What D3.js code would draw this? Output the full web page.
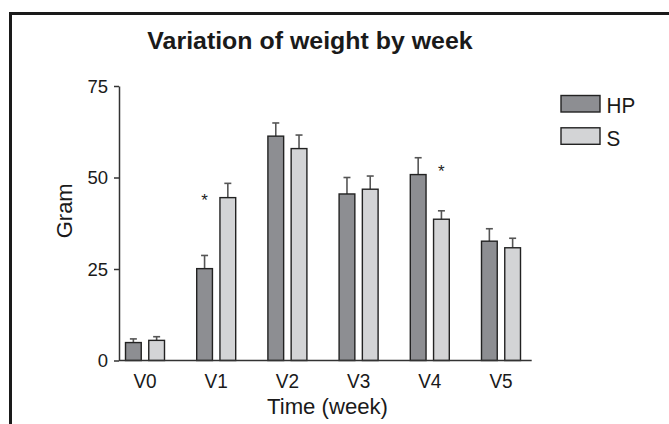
<!DOCTYPE html>
<html><head><meta charset="utf-8">
<script src="https://cdn.jsdelivr.net/npm/d3@7"></script>
<style>html,body{margin:0;padding:0;background:#fff;}svg{display:block;font-family:"Liberation Sans",Arial,sans-serif;}</style>
</head><body>
<svg id="chart" width="669" height="424"></svg>
<script>
const categories = ["V0","V1","V2","V3","V4","V5"];
const seriesNames = ["HP","S"];
const hpValues = [4.9, 25.1, 61.3, 45.5, 50.8, 32.6];
const hpErrors = [1.0, 3.6, 3.6, 4.5, 4.6, 3.4];
const sValues  = [5.5, 44.5, 57.9, 46.8, 38.6, 30.8];
const sErrors  = [1.0, 3.9, 3.7, 3.6, 2.3, 2.6];
const yTicks = [0, 25, 50, 75];
const starCats = ["V1","V4"];
const starSeries = ["HP","S"];
const starValues = [44.8, 52.5];
const colors = {HP:"#8d8e92", S:"#d3d4d6"};

const svg = d3.select("#chart");
svg.append("rect").attr("width",669).attr("height",424).attr("fill","#fff");
// frame
svg.append("rect").attr("x",10.5).attr("y",13.5).attr("width",700).attr("height",450)
  .attr("fill","none").attr("stroke","#1a1a1a").attr("stroke-width",3);

const y = d3.scaleLinear().domain([0,75]).range([360.5, 86]);
const x = d3.scaleBand().domain(categories).range([109.4, 536.6]).padding(0);
const xs = d3.scaleBand().domain(seriesNames).range([15.6, 55.6]).paddingInner(0.28).paddingOuter(0);

const data = categories.map((c,i)=>({cat:c, vals:[
  {s:"HP", v:hpValues[i], e:hpErrors[i]},
  {s:"S", v:sValues[i], e:sErrors[i]}]}));

function stretch(sel, sx){
  sel.each(function(){
    const w = this.getComputedTextLength();
    d3.select(this).attr("textLength", w*sx).attr("lengthAdjust","spacingAndGlyphs");
  });
}

// title
svg.append("text").attr("x",310).attr("y",48.5).attr("text-anchor","middle")
  .attr("font-size",23.5).attr("font-weight","bold").attr("fill","#1a1a1a").text("Variation of weight by week")
  .call(stretch, 1.06);

// error bars
const g = svg.append("g");
data.forEach(d=>{
  d.vals.forEach(b=>{
    const cx = x(d.cat)+xs(b.s)+xs.bandwidth()/2;
    g.append("line").attr("x1",cx).attr("x2",cx).attr("y1",y(b.v)).attr("y2",y(b.v+b.e))
      .attr("stroke","#555").attr("stroke-width",1.6);
    g.append("line").attr("x1",cx-3.5).attr("x2",cx+3.5).attr("y1",y(b.v+b.e)).attr("y2",y(b.v+b.e))
      .attr("stroke","#555").attr("stroke-width",1.6);
  });
});
// bars
data.forEach(d=>{
  g.selectAll(null).data(d.vals).enter().append("rect")
    .attr("x",b=>x(d.cat)+xs(b.s)+0.5)
    .attr("y",b=>y(b.v))
    .attr("width",xs.bandwidth()-1)
    .attr("height",b=>y(0)-y(b.v))
    .attr("fill",b=>colors[b.s]).attr("stroke","#222").attr("stroke-width",1.4);
});

// stars
starCats.forEach((c,i)=>{
  const cx = x(c)+xs(starSeries[i])+xs.bandwidth()/2;
  svg.append("text").attr("x",cx).attr("y",y(starValues[i])+9).attr("text-anchor","middle")
    .attr("font-size",17).attr("fill","#222").text("*");
});

// y axis
const yAxis = d3.axisLeft(y).tickValues(yTicks).tickSize(5).tickSizeOuter(0).tickPadding(6);
const ya = svg.append("g").attr("transform","translate(119,0)").call(yAxis);
ya.select(".domain").attr("stroke","#333").attr("stroke-width",1.5);
ya.selectAll(".tick line").attr("stroke","#333").attr("stroke-width",1.5);
ya.selectAll(".tick text").attr("font-size",18.5).attr("fill","#1a1a1a")
  .attr("font-family","Liberation Sans, Arial, sans-serif").attr("dy",null).attr("y",6.3)
  .call(stretch, 1.0);

// baseline
svg.append("line").attr("x1",119).attr("x2",531.7).attr("y1",y(0)).attr("y2",y(0))
  .attr("stroke","#333").attr("stroke-width",1.5);

// x axis labels
const xAxis = d3.axisBottom(x).tickSize(0).tickPadding(0);
const xa = svg.append("g").attr("transform",`translate(0,${y(0)})`).call(xAxis);
xa.select(".domain").remove();
xa.selectAll(".tick text").attr("font-size",20).attr("fill","#1a1a1a")
  .attr("font-family","Liberation Sans, Arial, sans-serif").attr("dy",null).attr("y",27.5)
  .call(stretch, 0.95);

// axis titles
svg.append("text").attr("x",327.5).attr("y",414).attr("text-anchor","middle")
  .attr("font-size",21.5).attr("fill","#1a1a1a").text("Time (week)").call(stretch, 1.03);
svg.append("text").attr("transform","translate(72,210.8) rotate(-90)").attr("text-anchor","middle")
  .attr("font-size",22).attr("fill","#1a1a1a").text("Gram");

// legend
const lg = svg.append("g");
seriesNames.forEach((s,i)=>{
  lg.append("rect").attr("x",561).attr("y",95.5+i*32.3).attr("width",39).attr("height",16.5)
    .attr("fill",colors[s]).attr("stroke","#222").attr("stroke-width",1.4);
  lg.append("text").attr("x",606.5).attr("y",113.2+i*32.3).attr("font-size",21.5).attr("fill","#1a1a1a").text(s)
    .call(stretch, 0.96);
});
</script>
</body></html>
